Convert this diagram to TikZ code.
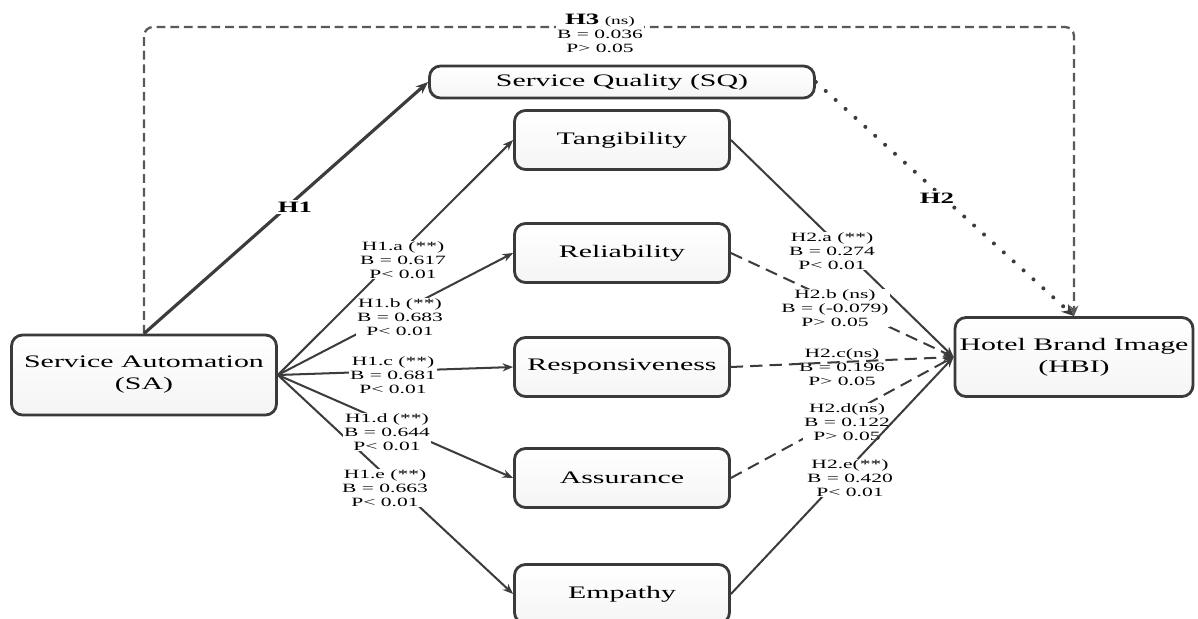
\documentclass[tikz,border=0pt]{standalone}
\usepackage{fontspec}
\setmainfont{Liberation Serif}[FakeStretch=1.7]
\usetikzlibrary{arrows.meta,shadings}
\definecolor{boxc}{HTML}{3A3A3A}
\definecolor{linec}{HTML}{3C3C3C}
\begin{document}
\begin{tikzpicture}[x=0.02cm,y=-0.02cm,
  box/.style={draw=boxc, line width=1.6pt, rounded corners=0.22cm, top color=white, bottom color=black!4,
    font=\fontsize{10}{12.5}\selectfont, align=center, inner sep=0pt},
  dimbox/.style={box, minimum width=4.3cm, minimum height=1.18cm},
  lab/.style={font=\fontsize{7.2}{7.9}\selectfont, align=center, fill=white, inner sep=0.6pt},
  labnf/.style={font=\fontsize{7.2}{7.9}\selectfont, align=center, inner sep=0.6pt},
  hlab/.style={font=\bfseries\fontsize{9}{10}\selectfont, fill=white, inner sep=1pt},
  tip/.style={-{Stealth[length=6pt,width=4.6pt]}},
  conn/.style={draw=linec, line width=1.15pt, tip},
  dconn/.style={conn, dash pattern=on 7pt off 4pt},
  h1line/.style={draw=linec, line width=1.8pt, -{Stealth[length=7pt,width=5.5pt]}},
  h2line/.style={draw=linec, line width=2.3pt, line cap=round, dash pattern=on 0pt off 7.6pt, -{Stealth[length=7pt,width=6pt]}},
  h3line/.style={draw=linec!85, line width=1.3pt, dash pattern=on 5pt off 2.8pt, rounded corners=0.18cm, -{Stealth[length=6pt,width=5pt]}}
]
\useasboundingbox (0,0) rectangle (1198,619);
% boxes
\node[box, minimum width=5.3cm, minimum height=1.6cm] (SA) at (144,375) {Service Automation\\(SA)};
\node[box, minimum width=7.7cm, minimum height=0.64cm] (SQ) at (622,82) {Service Quality (SQ)};
\node[dimbox] (T) at (622,140) {Tangibility};
\node[dimbox] (R) at (622,253) {Reliability};
\node[dimbox] (RS) at (622,367) {Responsiveness};
\node[dimbox] (A) at (622,478) {Assurance};
\node[dimbox] (E) at (622,594) {Empathy};
\node[box, minimum width=4.76cm, minimum height=1.58cm] (HBI) at (1074,357) {Hotel Brand Image\\(HBI)};
% H3
\coordinate (c1) at (144,27);
\coordinate (c2) at (1074,27);
\draw[h3line] (SA.north) -- (c1) -- (c2) -- (HBI.north);
\node[labnf, fill=white] (h3) at (600,33) {{\bfseries\fontsize{9}{10}\selectfont H3} {\fontsize{6.5}{7}\selectfont(ns)}\\B = 0.036\\P> 0.05};
% H1, H2
\draw[h1line] (SA.north) -- (SQ.west);
\node[hlab] (h1) at (295,207) {H1};
\draw[h2line] (SQ.east) -- (HBI.north);
\node[hlab] (h2) at (937,198) {H2};
% SA to dimensions
\draw[conn] (SA.east) -- (T.west);
\draw[conn] (SA.east) -- (R.west);
\draw[conn] (SA.east) -- (RS.west);
\draw[conn] (SA.east) -- (A.west);
\draw[conn] (SA.east) -- (E.west);
\node[lab] (l1a) at (403,260) {H1.a (**)\\B = 0.617\\P< 0.01};
\node[lab] (l1b) at (400,317) {H1.b (**)\\B = 0.683\\P< 0.01};
\node[lab] (l1c) at (393,375) {H1.c (**)\\B = 0.681\\P< 0.01};
\node[lab] (l1d) at (387,432) {H1.d (**)\\B = 0.644\\P< 0.01};
\node[lab] (l1e) at (385,488) {H1.e (**)\\B = 0.663\\P< 0.01};
% dimensions to HBI
\draw[conn] (T.east) -- (HBI.west);
\node[lab] (l2a) at (832,251) {H2.a (**)\\B = 0.274\\P< 0.01};
\draw[dconn] (R.east) -- (HBI.west);
\node[lab] (l2b) at (835,308) {H2.b (ns)\\B = (-0.079)\\P> 0.05};
\node[lab] (l2c) at (842,367) {H2.c(ns)\\B = 0.196\\P> 0.05};
\draw[dconn] (RS.east) -- (HBI.west);
\draw[dconn] (A.east) -- (HBI.west);
\node[lab] (l2d) at (847,422) {H2.d(ns)\\B = 0.122\\P> 0.05};
\draw[conn] (E.east) -- (HBI.west);
\node[lab] (l2e) at (850,478) {H2.e(**)\\B = 0.420\\P< 0.01};
\end{tikzpicture}
\end{document}
